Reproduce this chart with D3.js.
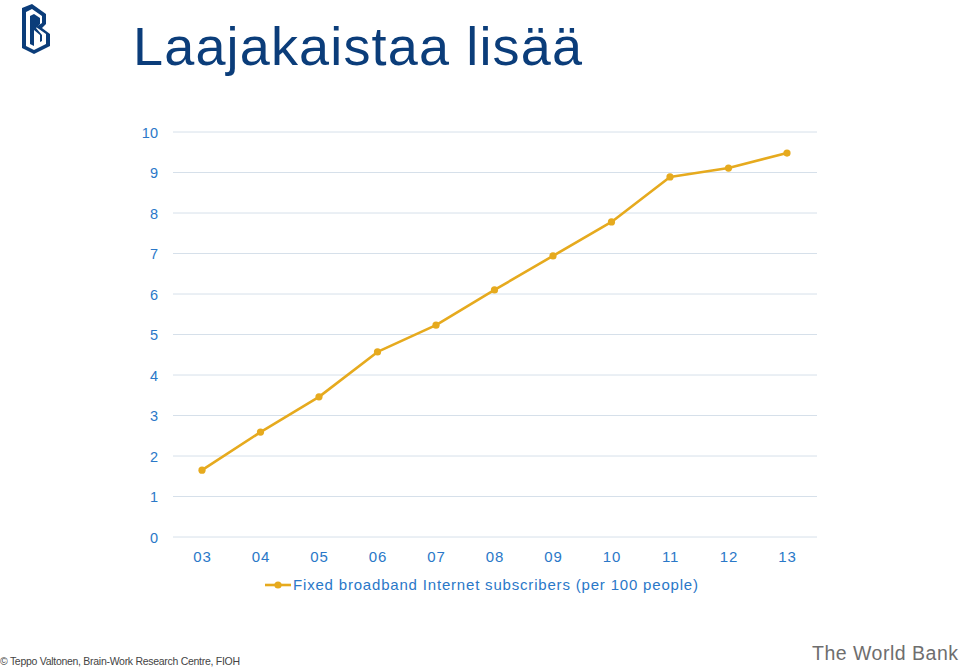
<!DOCTYPE html>
<html><head><meta charset="utf-8">
<script src="https://cdn.jsdelivr.net/npm/d3@7"></script>
<style>body{margin:0;background:#fff}svg{display:block}</style>
</head><body>
<svg id="c" width="960" height="668"></svg>
<script>
const years = ["03","04","05","06","07","08","09","10","11","12","13"];
const values = [1.65,2.59,3.46,4.57,5.23,6.10,6.94,7.78,8.89,9.11,9.48];
const yTicks = [0,1,2,3,4,5,6,7,8,9,10];
const seriesName = "Fixed broadband Internet subscribers (per 100 people)";
const titleText = "Laajakaistaa lisää";
const footerLeft = "© Teppo Valtonen, Brain-Work Research Centre, FIOH";
const footerRight = "The World Bank";

const svg = d3.select("#c");
const blue = "#2a78c8", gold = "#e6aa1e", grid = "#d6e0ea";
const font = "Liberation Sans, Arial, sans-serif";

const x = d3.scalePoint().domain(years).range([202,787]);
const y = d3.scaleLinear().domain([0,10]).range([537,132]);

// logo
const logo = svg.append("g").attr("transform","translate(22,4)");
logo.append("path").attr("d","M0,4 L10,0 L24,10 L24,20 L20,24 L28,30 L28,42 L12,50 L0,44 Z").attr("fill","#0b3d7a");
logo.append("path").attr("d","M4,8 L10,5 L20,12 L20,19 L14,23 L24,30 L24,40 L12,46 L4,42 Z").attr("fill","#fff");
logo.append("path").attr("d","M8,12 L8,40 L12,42 L12,26 L18,31 L18,38 L14,40 L20,37 L20,31 L14,24 L18,20 L18,14 L12,10 Z").attr("fill","#0b3d7a");

svg.append("text").attr("x",133).attr("y",65).text(titleText)
  .attr("font-family",font).attr("font-size",54).attr("fill","#0b3d7a")
  .attr("textLength",449).attr("lengthAdjust","spacing");

// grid
svg.append("g").selectAll("line").data(yTicks).join("line")
  .attr("x1",173).attr("x2",817).attr("y1",d=>y(d)).attr("y2",d=>y(d))
  .attr("stroke",grid).attr("stroke-width",1);

// y axis labels
const yAxis = d3.axisLeft(y).tickValues(yTicks).tickSize(0).tickPadding(0).tickFormat(d3.format("d"));
const ga = svg.append("g").attr("transform","translate(158,0)").call(yAxis);
ga.select(".domain").remove();
ga.selectAll("text").attr("font-family",font).attr("font-size",14.5).attr("fill",blue).attr("dy","0.35em");

// x axis labels
const xAxis = d3.axisBottom(x).tickSize(0).tickPadding(0);
const gx = svg.append("g").attr("transform","translate(0,551)").call(xAxis);
gx.select(".domain").remove();
gx.selectAll("text").attr("font-family",font).attr("font-size",15).attr("fill",blue).attr("letter-spacing","0.8px").attr("dy","0.71em");

// line
const data = years.map((yr,i)=>({yr,v:values[i]}));
svg.append("path").datum(data).attr("fill","none").attr("stroke",gold).attr("stroke-width",2.6)
  .attr("stroke-linejoin","round")
  .attr("d",d3.line().x(d=>x(d.yr)).y(d=>y(d.v)));
svg.append("g").selectAll("circle").data(data).join("circle")
  .attr("cx",d=>x(d.yr)).attr("cy",d=>y(d.v)).attr("r",3.6).attr("fill",gold);

// legend
svg.append("line").attr("x1",265).attr("x2",291).attr("y1",585).attr("y2",585).attr("stroke",gold).attr("stroke-width",2.6);
svg.append("circle").attr("cx",278).attr("cy",585).attr("r",3.6).attr("fill",gold);
svg.append("text").attr("x",293).attr("y",590).text(seriesName)
  .attr("font-family",font).attr("font-size",15).attr("fill",blue)
  .attr("textLength",405).attr("lengthAdjust","spacing");

// footer
svg.append("text").attr("x",0).attr("y",665).text(footerLeft)
  .attr("font-family",font).attr("font-size",10.5).attr("fill","#444")
  .attr("textLength",240).attr("lengthAdjust","spacing");
svg.append("text").attr("x",812).attr("y",660).text(footerRight)
  .attr("font-family",font).attr("font-size",19.5).attr("fill","#6e6e6e")
  .attr("textLength",146).attr("lengthAdjust","spacing");
</script>
</body></html>
